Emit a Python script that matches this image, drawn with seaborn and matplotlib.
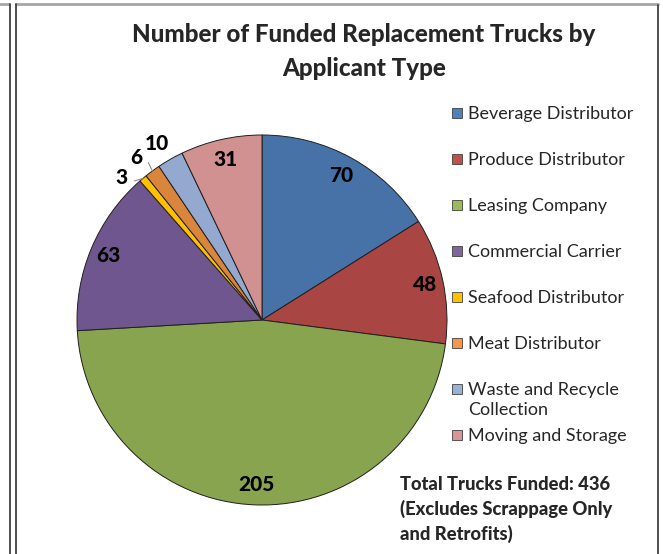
import numpy as np
import matplotlib
matplotlib.use('Agg')
import matplotlib.pyplot as plt
import seaborn as sns
from matplotlib.lines import Line2D
from matplotlib.patches import Rectangle

# data
categories = ["Beverage Distributor", "Produce Distributor", "Leasing Company",
              "Commercial Carrier", "Seafood Distributor", "Meat Distributor",
              "Waste and Recycle\nCollection", "Moving and Storage"]
trucks = [70, 48, 205, 63, 3, 6, 10, 31]
colors = ["#4672A8", "#A94543", "#88A44F", "#6F568F",
          "#FFC000", "#DA853C", "#93A9CF", "#D09190"]
legend_colors = ["#4F81BD", "#C0504D", "#9BBB59", "#8064A2",
                 "#FFC000", "#F79646", "#95B3D7", "#D99694"]
label_dist = [0.89, 0.90, 0.89, 0.90, 1.08, 1.11, 1.11, 0.89]
label_shift = [0, 0, 0, 0, 4.5, 1.5, 1.0, 0]   # degrees
leader = [False, False, False, False, True, True, False, False]

sns.set_theme(style="white")
plt.rcParams['font.family'] = ['Lato', 'DejaVu Sans']
BOLD = 900

W, H = 663, 554
fig = plt.figure(figsize=(W / 100, H / 100), dpi=100)
fig.patch.set_facecolor("white")

def fx(px):
    return px / W

def fy(py):
    return 1 - py / H

# frame lines
fig.add_artist(Line2D([fx(16), fx(658)], [fy(4), fy(4)], color="#A6A6A6", lw=2))
fig.add_artist(Line2D([fx(0), fx(9)], [fy(4), fy(4)], color="#A6A6A6", lw=2))
fig.add_artist(Line2D([fx(16), fx(16)], [fy(4), fy(H)], color="#404040", lw=1.3))
fig.add_artist(Line2D([fx(9.5), fx(9.5)], [fy(4), fy(H)], color="#404040", lw=1.3))
fig.add_artist(Line2D([fx(658), fx(658)], [fy(5), fy(H)], color="#404040", lw=1.3))

# pie axes
cx, cy, R = 262, 320, 185
ax = fig.add_axes([fx(cx - R), fy(cy + R), 2 * R / W, 2 * R / H])
wedges, _ = ax.pie(trucks, colors=colors, startangle=90, counterclock=False,
                   radius=1, wedgeprops=dict(edgecolor="#1F1F1F", linewidth=0.7))
ax.set_xlim(-1, 1)
ax.set_ylim(-1, 1)
ax.set_aspect("equal")
ax.axis("off")

for w, val, d, sh, ld in zip(wedges, trucks, label_dist, label_shift, leader):
    mid = np.deg2rad((w.theta1 + w.theta2) / 2)
    ang = mid + np.deg2rad(sh)
    tx, ty = d * np.cos(ang), d * np.sin(ang)
    ax.text(tx, ty, str(val), ha="center", va="center", fontsize=15,
            fontweight=BOLD, color="black", clip_on=False)
    if ld:
        ex, ey = 1.0 * np.cos(mid), 1.0 * np.sin(mid)
        sx, sy = (d - 0.06) * np.cos(ang - np.deg2rad(2)), (d - 0.06) * np.sin(ang - np.deg2rad(2))
        ax.plot([sx, ex], [sy, ey], color="#8C8C8C", lw=0.8, clip_on=False)

# title
fig.text(fx(364), fy(34), "Number of Funded Replacement Trucks by",
         ha="center", va="center", fontsize=17.4, fontweight=BOLD)
fig.text(fx(364), fy(68), "Applicant Type",
         ha="center", va="center", fontsize=17.4, fontweight=BOLD)

# legend
for i, (lab, col) in enumerate(zip(categories, legend_colors)):
    y = 113 + 46 * i
    fig.add_artist(Rectangle((fx(452), fy(y + 5)), 10 / W, 10 / H,
                             facecolor=col, edgecolor="#404040", linewidth=0.6))
    fig.text(fx(468), fy(y - 7), lab, ha="left", va="top", fontsize=13,
             linespacing=1.3)

# note
fig.text(fx(400), fy(476), "Total Trucks Funded: 436\n(Excludes Scrappage Only\nand Retrofits)",
         ha="left", va="top", fontsize=13.2, fontweight=BOLD, linespacing=1.45)

fig.savefig("out.png", dpi=100)
